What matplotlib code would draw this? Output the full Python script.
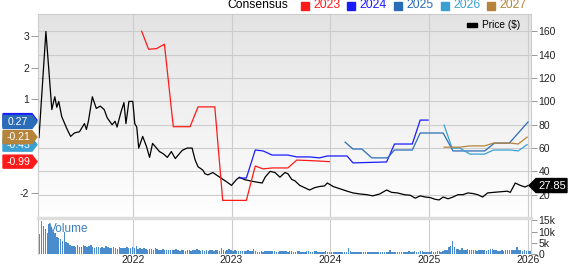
import numpy as np
import pandas as pd
import matplotlib
matplotlib.use("Agg")
import matplotlib.pyplot as plt
from matplotlib.patches import Polygon, Rectangle
from matplotlib.colors import LinearSegmentedColormap
from datetime import datetime, timedelta

plt.rcParams['font.family'] = ['Liberation Sans', 'DejaVu Sans']


def to_date(y):
    year = int(y)
    return datetime(year, 1, 1) + timedelta(days=(y - year) * 365.25)


# price ($), decimal year -> value
price_t = [2021.05, 2021.12, 2021.18, 2021.21, 2021.23, 2021.25, 2021.28, 2021.33, 2021.37, 2021.41,
           2021.46, 2021.51, 2021.53, 2021.55, 2021.59, 2021.63, 2021.67, 2021.71, 2021.74, 2021.79,
           2021.82, 2021.84, 2021.88, 2021.91, 2021.93, 2021.96, 2022.00, 2022.02, 2022.04, 2022.06,
           2022.10, 2022.14, 2022.17, 2022.20, 2022.24, 2022.27, 2022.31, 2022.35, 2022.39, 2022.43,
           2022.46, 2022.50, 2022.55, 2022.60, 2022.63, 2022.66, 2022.71, 2022.73, 2022.76, 2022.81,
           2022.88, 2022.95, 2023.00, 2023.05, 2023.08, 2023.13, 2023.18, 2023.24, 2023.31, 2023.34,
           2023.39, 2023.44, 2023.49, 2023.54, 2023.57, 2023.61, 2023.64, 2023.69, 2023.74, 2023.79,
           2023.84, 2023.89, 2023.94, 2023.97, 2024.03, 2024.10, 2024.17, 2024.23, 2024.30, 2024.37,
           2024.43, 2024.50, 2024.57, 2024.62, 2024.68, 2024.75, 2024.81, 2024.86, 2024.91, 2024.96,
           2025.01, 2025.06, 2025.10, 2025.14, 2025.19, 2025.24, 2025.29, 2025.34, 2025.39, 2025.44,
           2025.49, 2025.54, 2025.59, 2025.65, 2025.72, 2025.79, 2025.82, 2025.87, 2025.92, 2025.97,
           2026.00]
price = [69, 160, 93, 104, 95, 100, 87, 77, 70, 73,
         74, 81, 76, 83, 104, 94, 96, 93, 86, 80,
         83, 78, 91, 99, 81, 100, 100, 81, 78, 60,
         70, 61, 52, 64, 60, 57, 55, 52, 57, 51,
         54, 58, 60, 60, 50, 44, 41, 38, 37, 39,
         35, 31, 28, 33, 35, 33, 32, 31, 30, 35,
         40, 39, 35, 39, 38, 33, 32, 28, 26, 24,
         26, 27, 27.5, 30, 27, 25, 23, 21.5, 20.6, 20,
         19, 20.6, 24, 22, 21.5, 20, 19.5, 17, 19, 18,
         17.5, 16, 15.5, 18, 16.5, 18, 20, 20, 21.5, 21,
         20, 18, 21.5, 22, 22.5, 23, 22, 30, 28, 26.6,
         27.85]
last_price = 27.85

# consensus EPS estimates per fiscal year
eps_2023_t = [2022.09, 2022.16, 2022.24, 2022.32, 2022.41, 2022.58, 2022.66, 2022.83, 2022.91,
              2023.15, 2023.24, 2023.32, 2023.41, 2023.57, 2023.66, 2023.82, 2023.99]
eps_2023 = [3.15, 2.58, 2.60, 2.74, 0.12, 0.12, 0.75, 0.75, -2.22,
            -2.22, -1.13, -1.22, -1.19, -1.19, -0.94, -0.96, -0.99]
eps_2024_t = [2023.08, 2023.15, 2023.24, 2023.32, 2023.41, 2023.57, 2023.66, 2023.79, 2023.89,
              2023.97, 2024.17, 2024.23, 2024.33, 2024.57, 2024.65, 2024.83, 2024.91, 2024.99]
eps_2024 = [-1.51, -1.51, -0.62, -0.65, -0.78, -0.78, -0.84, -0.84, -0.87,
            -0.81, -0.81, -1.03, -1.02, -1.00, -0.43, -0.43, 0.33, 0.33]
eps_2025_t = [2024.15, 2024.23, 2024.32, 2024.42, 2024.58, 2024.65, 2024.83, 2024.91, 2025.14,
              2025.24, 2025.56, 2025.66, 2025.81, 2026.00]
eps_2025 = [-0.37, -0.59, -0.59, -0.87, -0.87, -0.62, -0.62, -0.08, -0.08,
            -0.65, -0.65, -0.40, -0.40, 0.27]
eps_2026_t = [2025.15, 2025.23, 2025.31, 2025.41, 2025.56, 2025.65, 2025.82, 2025.90, 2025.99]
eps_2026 = [0.17, -0.56, -0.56, -0.75, -0.75, -0.62, -0.62, -0.65, -0.45]
eps_2027_t = [2025.15, 2025.31, 2025.41, 2025.56, 2025.65, 2025.82, 2025.90, 2025.99]
eps_2027 = [-0.53, -0.53, -0.49, -0.49, -0.40, -0.40, -0.43, -0.21]

series_years = ['2023', '2024', '2025', '2026', '2027']
series_colors = ['#ff1a1a', '#1a1aff', '#2b6cb8', '#3aa0d2', '#b5843a']
last_eps = [-0.99, 0.33, 0.27, -0.45, -0.21]

# weekly volume (thousands), from 2021-01-15
vol_2021 = [9.5, 9, 14.5, 12.5, 11, 9.5, 13.5, 12, 10, 9.5, 7.5, 7, 6.5, 6, 10, 5.5, 5, 4, 3.5, 3.5,
            3, 3.8, 3.2, 3, 4, 3.5, 3, 3.5, 4.2, 3.3, 2.8, 3, 3.2, 2.6, 3, 2.8, 3.5, 3, 2.5, 2.8,
            3, 2.6, 2.4, 3, 2.8, 2.5, 2.7, 3, 2.5, 2.8, 3.2, 2.6]
vol_2022 = [3.6, 2.4, 2.6, 2.2, 2.5, 2.3, 2.0, 2.4, 2.2, 1.9, 2.6, 2.1, 1.8, 2.0, 2.3, 1.9, 1.7, 2.0,
            1.8, 1.6, 1.9, 2.2, 1.7, 1.5, 1.8, 1.6, 1.4, 1.7, 1.9, 1.5, 1.6, 1.8, 2.1, 1.7, 1.5, 1.6,
            1.4, 1.8, 1.5, 1.7, 1.6, 1.4, 1.9, 1.6, 1.5, 2.5, 1.8, 1.5, 1.6, 2.3, 1.7, 1.5]
vol_2023 = [1.6, 1.4, 1.3, 1.5, 1.2, 1.4, 1.3, 1.6, 1.4, 1.2, 2.4, 1.5, 1.1, 1.0, 1.2, 1.1, 1.3, 1.2,
            1.4, 1.3, 1.2, 1.3, 1.1, 1.0, 1.4, 1.2, 1.5, 1.3, 1.1, 1.2, 1.4, 1.0, 1.1, 1.3, 1.2, 1.0,
            0.9, 1.1, 1.3, 1.2, 1.0, 1.1, 1.4, 1.2, 1.0, 1.1, 0.9, 1.0, 1.2, 1.1, 0.9, 1.0]
vol_2024 = [0.8, 0.9, 1.0, 0.8, 0.9, 1.0, 1.1, 0.9, 2.6, 1.2, 1.0, 0.9, 0.8, 1.0, 0.9, 0.8, 0.9, 1.1,
            0.8, 0.7, 0.9, 1.0, 0.8, 0.9, 1.0, 0.8, 0.9, 1.0, 0.7, 0.8, 1.6, 0.9, 0.8, 0.7, 0.8, 0.9,
            0.8, 0.7, 0.9, 1.0, 1.2, 1.0, 0.9, 1.3, 1.1, 1.0, 1.4, 1.2, 1.0, 0.9, 1.1, 1.0]
vol_2025 = [1.2, 1.0, 1.1, 1.3, 1.2, 1.1, 1.4, 1.6, 2.0, 3.2, 3.4, 6.0, 3.0, 2.2, 2.4, 1.8, 2.6, 2.0,
            1.8, 2.2, 1.9, 1.7, 1.6, 1.8, 1.5, 1.6, 1.7, 1.9, 1.6, 1.5, 1.7, 2.2, 2.4, 1.8, 1.6, 1.5,
            1.4, 1.6, 1.5, 1.7, 1.6, 1.8, 1.9, 1.7, 1.6, 3.0, 2.0, 1.6, 1.5, 1.7, 1.4, 1.5]
vol_2026 = [1.2]

tick_years = [2022, 2023, 2024, 2025, 2026]
price_ticks = [20, 40, 60, 80, 100, 120, 140, 160]
eps_ticks = [-2, 1, 2, 3]
vol_ticks = [0, 5000, 10000, 15000]
vol_tick_labels = ['0', '5k', '10k', '15k']

W, H = 571, 264
fig = plt.figure(figsize=(W / 100, H / 100), dpi=100)


def fx(px):
    return px / W


def fy(py):
    return 1 - py / H


L, R, T, MB, VB = 38, 531, 14, 218, 254
rect_main = [fx(L), fy(MB), fx(R) - fx(L), fy(T) - fy(MB)]

# gradient background
bg = fig.add_axes(rect_main, zorder=-1)
grad = LinearSegmentedColormap.from_list('g', ['#e3e3e3', '#ffffff'])
bg.imshow(np.linspace(0, 1, 256).reshape(-1, 1), cmap=grad, aspect='auto',
          extent=[0, 1, 0, 1])
bg.axis('off')

ax = fig.add_axes(rect_main)
ax.set_facecolor('none')
ax_vol = fig.add_axes([fx(L), fy(VB), fx(R) - fx(L), fy(MB) - fy(VB)], sharex=ax)
ax_eps = ax.twinx()

xmin, xmax = to_date(2021.04), to_date(2026.03)

# price
ax.plot([to_date(t) for t in price_t], price, color='black', lw=0.9)
ax.set_ylim(0, 175)
ax.set_yticks(price_ticks)
ax.yaxis.tick_right()
ax.set_xticks([to_date(y) for y in tick_years])
ax.grid(True, color='#cccccc', lw=0.8)
ax.set_axisbelow(True)
ax.tick_params(axis='x', length=0, labelbottom=False)
ax.tick_params(axis='y', length=4, width=0.6, color='#888888', labelsize=7.5,
               labelcolor='#222222', pad=1.5)
for s in ['left', 'top', 'right']:
    ax.spines[s].set_color('#cccccc')
ax.spines['bottom'].set_visible(False)

# consensus lines
eps_t = [eps_2023_t, eps_2024_t, eps_2025_t, eps_2026_t, eps_2027_t]
eps_v = [eps_2023, eps_2024, eps_2025, eps_2026, eps_2027]
for t, v, c in zip(eps_t, eps_v, series_colors):
    ax_eps.plot([to_date(x) for x in t], v, color=c, lw=0.9)
ax_eps.set_ylim(-2.78, 3.70)
ax_eps.set_yticks(eps_ticks)
ax_eps.set_yticklabels([str(v) for v in eps_ticks])
ax_eps.yaxis.tick_left()
ax_eps.tick_params(axis='y', length=5, width=0.6, color='#888888', labelsize=7.5,
                   labelcolor='#222222', pad=1.5)
for s in ax_eps.spines.values():
    s.set_visible(False)
ax_eps.set_xlim(xmin, xmax)

# volume
vol = np.array(vol_2021 + vol_2022 + vol_2023 + vol_2024 + vol_2025 + vol_2026) * 1000
vol_dates = pd.date_range('2021-01-15', periods=len(vol), freq='7D')
ax_vol.bar(vol_dates, vol, width=5.5, color='#4a8ccc', linewidth=0)
ax_vol.set_ylim(0, 16000)
ax_vol.set_yticks(vol_ticks)
ax_vol.set_yticklabels(vol_tick_labels)
ax_vol.yaxis.tick_right()
ax_vol.set_xlim(xmin, xmax)
ax_vol.set_xticks([to_date(y) for y in tick_years])
ax_vol.set_xticklabels([str(y) for y in tick_years])
ax_vol.grid(True, axis='x', color='#cccccc', lw=0.8)
ax_vol.set_axisbelow(True)
ax_vol.tick_params(axis='x', length=0, labelsize=7.5, labelcolor='#222222', pad=1)
ax_vol.tick_params(axis='y', length=4, width=0.6, color='#888888', labelsize=7.5,
                   labelcolor='#222222', pad=1.5)
ax_vol.spines['top'].set_color('#dddddd')
ax_vol.spines['top'].set_linewidth(2.5)
ax_vol.spines['left'].set_color('#cccccc')
ax_vol.spines['right'].set_color('#cccccc')
ax_vol.spines['bottom'].set_visible(False)
ax_vol.text((49 - L) / (R - L), 0.69, 'Volume', transform=ax_vol.transAxes,
            color='#3a7fc0', fontsize=8.5, va='center', ha='left')

# top legend
fig.text(fx(227), fy(5.5), 'Consensus', fontsize=8.7, va='center', ha='left')
sq_x = [301, 347, 394, 441, 487]
for i, (yr, c) in enumerate(zip(series_years, series_colors)):
    fig.add_artist(Rectangle((fx(sq_x[i]), fy(9.5)), 8 / W, 8 / H, color=c,
                             transform=fig.transFigure))
    fig.text(fx(sq_x[i] + 12), fy(5.5), yr, color=c, fontsize=8.7, va='center', ha='left')

fig.add_artist(Rectangle((fx(467), fy(27)), 10 / W, 4 / H, color='black',
                         transform=fig.transFigure))
fig.text(fx(482), fy(25), 'Price ($)', fontsize=7.3, va='center', ha='left')

# last-value labels on the left (EPS), stacked so later ones cover earlier ones
order = [1, 2, 3, 4, 0]
for k, i in enumerate(order):
    yd = ax_eps.transData.transform((0, last_eps[i]))[1]
    pts = np.array([(3, yd - 6.5), (32, yd - 6.5), (37, yd), (32, yd + 6.5), (3, yd + 6.5)])
    fig.add_artist(Polygon(pts / [W, H], closed=True, color=series_colors[i],
                           transform=fig.transFigure, zorder=10 + 2 * k))
    fig.text(18 / W, yd / H, '%.2f' % last_eps[i], color='white', fontsize=7.6,
             va='center', ha='center', zorder=11 + 2 * k)

# last price label on the right
yd = ax.transData.transform((0, last_price))[1]
pts = np.array([(529, yd), (536, yd + 7), (567, yd + 7), (567, yd - 7), (536, yd - 7)])
fig.add_artist(Polygon(pts / [W, H], closed=True, color='black', transform=fig.transFigure,
                       zorder=30))
fig.text(552 / W, yd / H, '%.2f' % last_price, color='white', fontsize=8, va='center',
         ha='center', zorder=31)

fig.savefig('out.png', dpi=100)
